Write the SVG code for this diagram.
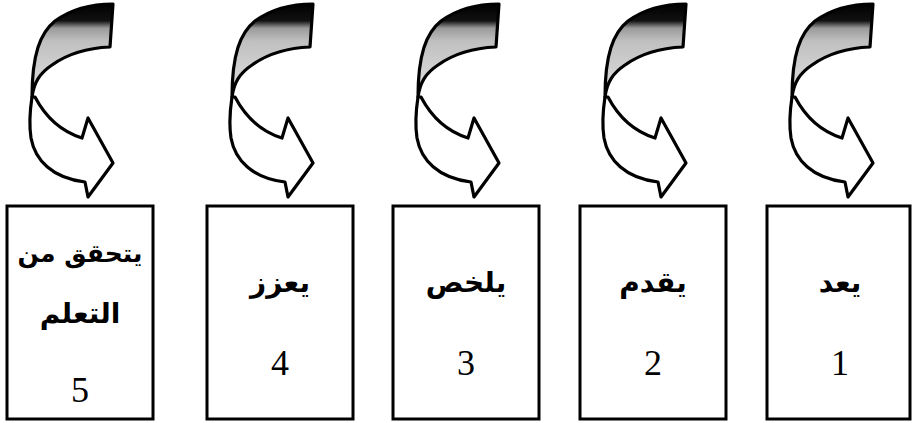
<svg xmlns="http://www.w3.org/2000/svg" xmlns:xlink="http://www.w3.org/1999/xlink" width="913" height="423" viewBox="0 0 913 423">
<style>
.box{fill:#fff;stroke:#000;stroke-width:3}
.ar{font-family:"DejaVu Sans","Noto Sans",sans-serif;font-weight:bold;font-size:28px;text-anchor:middle;fill:#000}
.ar.sm{font-size:25px}
.num{font-family:"Liberation Serif",serif;font-size:36px;text-anchor:middle;fill:#000}
.band{stroke:#000;stroke-width:3.2;stroke-linejoin:round}
</style>
<defs>
<linearGradient id="g" x1="0" y1="4" x2="0" y2="97" gradientUnits="userSpaceOnUse">
<stop offset="0" stop-color="#000"/>
<stop offset="0.18" stop-color="#111"/>
<stop offset="0.26" stop-color="#9a9a9a"/>
<stop offset="0.4" stop-color="#c0c0c0"/>
<stop offset="1" stop-color="#e0e0e0"/>
</linearGradient>
<g id="arrow">
<path class="band" fill="url(#g)" d="M113,4 C90,4 70,10 55,21 C40,33 32,55 32,97 C34,82 40,73 52,65 C66,55 86,48 110,47 Z"/>
<path class="band" fill="#fff" d="M32,97 C30,110 29,125 31,138 C35,160 52,178 85,182 L88,197 L113,163 L88,118 L82,138 C63,132 46,118 35,97 Z"/>
</g>
</defs>
<g id="connectors">
<use xlink:href="#arrow" x="0" y="0"/>
<use xlink:href="#arrow" x="200" y="0"/>
<use xlink:href="#arrow" x="386" y="0"/>
<use xlink:href="#arrow" x="573" y="0"/>
<use xlink:href="#arrow" x="760" y="0"/>
</g>
<g id="node5">
<rect class="box" x="7" y="206" width="146" height="213"/>
<text class="ar sm" x="80" y="262">يتحقق من</text>
<text class="ar" x="80" y="323">التعلم</text>
<text class="num" x="80" y="402">5</text>
</g>
<g id="node4">
<rect class="box" x="207" y="206" width="146" height="213"/>
<text class="ar" x="280" y="292">يعزز</text>
<text class="num" x="280" y="375">4</text>
</g>
<g id="node3">
<rect class="box" x="393" y="206" width="146" height="213"/>
<text class="ar" x="466" y="292">يلخص</text>
<text class="num" x="466" y="375">3</text>
</g>
<g id="node2">
<rect class="box" x="580" y="206" width="146" height="213"/>
<text class="ar" x="653" y="292">يقدم</text>
<text class="num" x="653" y="375">2</text>
</g>
<g id="node1">
<rect class="box" x="767" y="206" width="143" height="213"/>
<text class="ar" x="840" y="292">يعد</text>
<text class="num" x="840" y="375">1</text>
</g>
</svg>
